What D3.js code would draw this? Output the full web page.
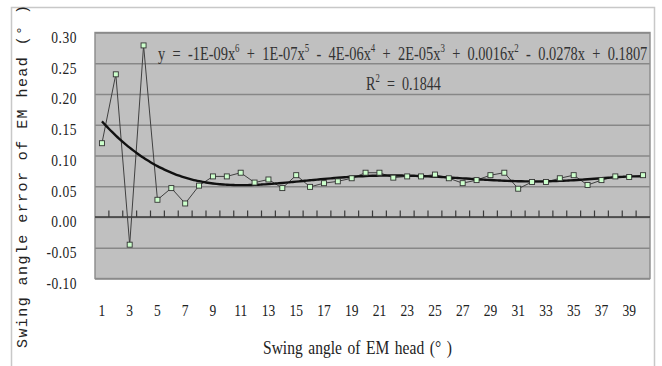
<!DOCTYPE html>
<html>
<head>
<meta charset="utf-8">
<script src="https://cdn.jsdelivr.net/npm/d3@7"></script>
<style>
  html, body { margin: 0; padding: 0; background: #fff; }
  svg { display: block; }
</style>
</head>
<body>
<svg id="chart" width="662" height="366"></svg>
<script>
// Swing angle (deg) categories 1..40
const categories = d3.range(1, 41);
// Measured swing angle error of the EM head (deg)
const errorValues = [
  0.120, 0.232, -0.045, 0.279, 0.028, 0.047, 0.022, 0.051, 0.066, 0.066,
  0.072, 0.056, 0.061, 0.047, 0.068, 0.049, 0.055, 0.058, 0.063, 0.072,
  0.072, 0.064, 0.066, 0.066, 0.069, 0.063, 0.055, 0.060, 0.068, 0.072,
  0.046, 0.057, 0.057, 0.063, 0.068, 0.052, 0.060, 0.066, 0.065, 0.068
];
const yTickValues = [-0.10, -0.05, 0.00, 0.05, 0.10, 0.15, 0.20, 0.25, 0.30];
const yTickLabels = ["-0.10", "-0.05", "0.00", "0.05", "0.10", "0.15", "0.20", "0.25", "0.30"];
const xTickLabels = d3.range(1, 40, 2);
const trendDegree = 6;
const equationParts = [
  ["y = -1E-09x", "6"], [" + 1E-07x", "5"], [" - 4E-06x", "4"],
  [" + 2E-05x", "3"], [" + 0.0016x", "2"], [" - 0.0278x + 0.1807", null]
];
const rSquaredParts = [["R", "2"], [" = 0.1844", null]];
const xTitle = "Swing angle of EM head (° )";
const yTitle = "Swing angle error of EM head (° )";

const svg = d3.select("#chart");
const plot = { left: 95, right: 650, top: 32.5, bottom: 278.5 };
const serif = "'Liberation Serif', 'DejaVu Serif', serif";
const narrow = 0.82; // horizontal squeeze for the tick numerals

// outer chart frame
svg.append("path")
  .attr("d", "M11.5,366 V7.5 H654.5 V366")
  .attr("fill", "none").attr("stroke", "#c8c8c8").attr("stroke-width", 1.5);

const x = d3.scaleBand().domain(categories).range([plot.left, plot.right]).padding(0);
const cx = c => x(c) + x.bandwidth() / 2;
const y = d3.scaleLinear().domain([-0.10, 0.30]).range([plot.bottom, plot.top]);

// plot area
svg.append("rect")
  .attr("x", plot.left).attr("y", plot.top)
  .attr("width", plot.right - plot.left).attr("height", plot.bottom - plot.top)
  .attr("fill", "#c0c0c0");

// horizontal gridlines
const grid = svg.append("g").attr("transform", `translate(${plot.left},0)`)
  .call(d3.axisLeft(y).tickValues(yTickValues).tickSize(-(plot.right - plot.left)).tickFormat(""));
grid.select(".domain").remove();
grid.selectAll(".tick line").attr("stroke", "#878787").attr("stroke-width", 1.4);

// plot border
svg.append("rect")
  .attr("x", plot.left).attr("y", plot.top)
  .attr("width", plot.right - plot.left).attr("height", plot.bottom - plot.top)
  .attr("fill", "none").attr("stroke", "#8a8a8a").attr("stroke-width", 1.4);

// y tick labels
const yAxis = svg.append("g").attr("transform", `translate(${plot.left},0)`)
  .call(d3.axisLeft(y).tickValues(yTickValues).tickSize(0).tickPadding(18)
    .tickFormat((d, i) => yTickLabels[i]));
yAxis.select(".domain").remove();
yAxis.selectAll("text")
  .attr("font-family", serif).attr("font-size", 16.5).attr("fill", "#222")
  .attr("x", -18 / narrow)
  .attr("dy", "0.6em")
  .attr("letter-spacing", 0.6)
  .attr("transform", `scale(${narrow},1)`);

// category axis along zero, ticks pointing up at band boundaries
const zeroY = y(0);
svg.append("line")
  .attr("x1", plot.left).attr("x2", plot.right)
  .attr("y1", zeroY).attr("y2", zeroY)
  .attr("stroke", "#3a3a3a").attr("stroke-width", 1.3);
svg.append("g").selectAll("line")
  .data(categories.slice(1))
  .join("line")
  .attr("x1", d => x(d)).attr("x2", d => x(d))
  .attr("y1", zeroY).attr("y2", zeroY - 6.5)
  .attr("stroke", "#3a3a3a").attr("stroke-width", 1.2);

// x tick labels
svg.append("g").selectAll("text")
  .data(xTickLabels)
  .join("text")
  .attr("transform", d => `translate(${cx(d)},316) scale(${narrow},1)`)
  .attr("text-anchor", "middle")
  .attr("font-family", serif).attr("font-size", 16.5).attr("fill", "#222")
  .text(d => d);

// data line with square markers
const line = d3.line().x((d, i) => cx(categories[i])).y(d => y(d));
svg.append("path")
  .datum(errorValues)
  .attr("d", line)
  .attr("fill", "none").attr("stroke", "#404040").attr("stroke-width", 1);

// polynomial least-squares trend
function polyfit(xs, ys, deg) {
  const mid = (d3.min(xs) + d3.max(xs)) / 2, half = (d3.max(xs) - d3.min(xs)) / 2;
  const n = deg + 1;
  const A = Array.from({ length: n }, () => new Array(n).fill(0));
  const b = new Array(n).fill(0);
  xs.forEach((xv, k) => {
    const t = (xv - mid) / half;
    const p = [];
    for (let i = 0; i < n; i++) p.push(Math.pow(t, i));
    for (let i = 0; i < n; i++) {
      b[i] += p[i] * ys[k];
      for (let j = 0; j < n; j++) A[i][j] += p[i] * p[j];
    }
  });
  for (let c = 0; c < n; c++) {
    let piv = c;
    for (let r = c + 1; r < n; r++) if (Math.abs(A[r][c]) > Math.abs(A[piv][c])) piv = r;
    [A[c], A[piv]] = [A[piv], A[c]]; [b[c], b[piv]] = [b[piv], b[c]];
    for (let r = c + 1; r < n; r++) {
      const f = A[r][c] / A[c][c];
      for (let j = c; j < n; j++) A[r][j] -= f * A[c][j];
      b[r] -= f * b[c];
    }
  }
  const coef = new Array(n).fill(0);
  for (let i = n - 1; i >= 0; i--) {
    let s = b[i];
    for (let j = i + 1; j < n; j++) s -= A[i][j] * coef[j];
    coef[i] = s / A[i][i];
  }
  return xv => {
    const t = (xv - mid) / half;
    return coef.reduce((acc, c, i) => acc + c * Math.pow(t, i), 0);
  };
}
const trend = polyfit(categories, errorValues, trendDegree);
const xc = d3.scaleLinear().domain([1, 40]).range([cx(1), cx(40)]);
const trendX = d3.range(1, 40.001, 0.25);
svg.append("path")
  .datum(trendX)
  .attr("d", d3.line().x(d => xc(d)).y(d => y(trend(d))).curve(d3.curveMonotoneX))
  .attr("fill", "none").attr("stroke", "#111").attr("stroke-width", 2.4);

svg.append("g").selectAll("rect")
  .data(errorValues)
  .join("rect")
  .attr("x", (d, i) => cx(categories[i]) - 2.5)
  .attr("y", d => y(d) - 2.5)
  .attr("width", 5).attr("height", 5)
  .attr("fill", "#ccffcc").attr("stroke", "#333").attr("stroke-width", 0.9);

// squeeze text horizontally to a target width
function fitWidth(sel, left, baseline, width) {
  const w = sel.node().getBBox().width;
  sel.attr("transform", `translate(${left},${baseline}) scale(${width / w},1)`);
}

// text with superscript exponents, baseline restored after each exponent
function superscriptText(parts) {
  const t = svg.append("text")
    .attr("font-family", serif).attr("font-size", 19.5).attr("fill", "#333")
    .attr("word-spacing", 5);
  let raised = false;
  parts.forEach(([txt, sup]) => {
    t.append("tspan").attr("dy", raised ? 8 : 0).text(txt);
    raised = false;
    if (sup) {
      t.append("tspan").attr("font-size", 12).attr("dy", -8).text(sup);
      raised = true;
    }
  });
  return t;
}

const eq = superscriptText(equationParts);
fitWidth(eq, 158, 59.5, 490);

const r2 = superscriptText(rSquaredParts);
fitWidth(r2, 366, 89.5, 75);

// axis titles
const xt = svg.append("text")
  .attr("font-family", serif).attr("font-size", 18).attr("fill", "#222")
  .attr("word-spacing", 2)
  .text(xTitle);
fitWidth(xt, 263, 354, 189);

svg.append("text")
  .attr("transform", "translate(27,348) rotate(-90)")
  .attr("font-family", "'Liberation Mono', 'DejaVu Sans Mono', monospace")
  .attr("font-size", 15).attr("fill", "#222")
  .attr("textLength", 343).attr("lengthAdjust", "spacing")
  .text(yTitle);
</script>
</body>
</html>
